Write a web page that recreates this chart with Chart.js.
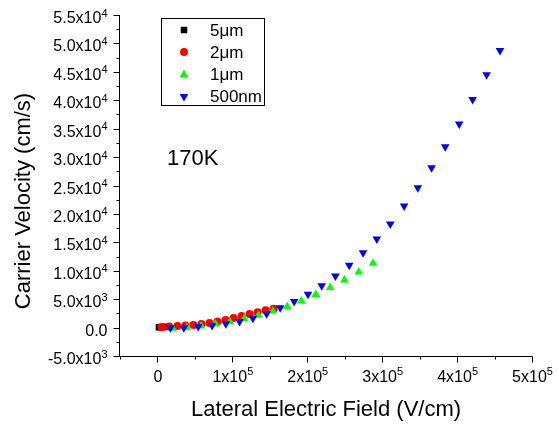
<!DOCTYPE html>
<html lang="en">
<head>
<meta charset="UTF-8">
<title>Carrier Velocity vs Lateral Electric Field</title>
<style>
  html, body { margin: 0; padding: 0; background: #fff; }
  #wrap { width: 559px; height: 426px; }
</style>
</head>
<body>
<div id="wrap"><canvas id="grafico" width="559" height="426"></canvas></div>
<script src="https://cdn.jsdelivr.net/npm/chart.js"></script>
<script>
// ===== data: lateral field (V/cm) vs carrier velocity (cm/s), 170K =====
const seriesNames = ['5μm', '2μm', '1μm', '500nm'];

const field5um = [2000, 5000, 8000, 11000];
const vel5um   = [50, 80, 100, 120];

const field2um = [5300, 16000, 26700, 37400, 48100, 58800, 69500, 80200, 90900, 101600, 112300, 123000, 133700, 144400, 155100];
const vel2um   = [110, 190, 280, 370, 470, 630, 810, 1070, 1340, 1690, 2040, 2390, 2710, 3060, 3300];

const field1um = [20200, 39300, 58400, 77500, 96700, 115800, 134900, 154000, 173100, 192200, 211400, 230500, 249600, 268700, 287800];
const vel1um   = [-100, 0, 260, 610, 1010, 1610, 2190, 2900, 3730, 4660, 5800, 7070, 8360, 9760, 11300];

const field500nm = [17400, 35200, 54400, 72900, 91300, 109600, 127400, 145700, 163800, 182500, 200900, 219300, 237600,
                    256000, 274500, 292800, 310800, 329300, 347600, 365900, 384100, 402800, 420700, 439400, 457200];
const vel500nm   = [-50, -50, 180, 360, 660, 1060, 1660, 2420, 3470, 4580, 5850, 7350, 9060,
                    10960, 13160, 15570, 18210, 21380, 24600, 28120, 31820, 35820, 40150, 44500, 48770];

// ===== ticks =====
const xTicks = [0, 100000, 200000, 300000, 400000, 500000];
const xTickLabels = ['0', '1x10^5', '2x10^5', '3x10^5', '4x10^5', '5x10^5'];
const xMinorTicks = [-50000, 50000, 150000, 250000, 350000, 450000];

const yTicks = [-5000, 0, 5000, 10000, 15000, 20000, 25000, 30000, 35000, 40000, 45000, 50000, 55000];
const yTickLabels = ['-5.0x10^3', '0.0', '5.0x10^3', '1.0x10^4', '1.5x10^4', '2.0x10^4', '2.5x10^4',
                     '3.0x10^4', '3.5x10^4', '4.0x10^4', '4.5x10^4', '5.0x10^4', '5.5x10^4'];
const yMinorTicks = [-2500, 2500, 7500, 12500, 17500, 22500, 27500, 32500, 37500, 42500, 47500, 52500];

const FONT = '"Liberation Sans", Arial, sans-serif';

function pts(xs, ys) {
  return xs.map((x, i) => ({ x: x, y: ys[i] }));
}

// texto con exponente tipo 1x10^5
function supLabel(ctx, txt, x, y, align, size, supSize, rise) {
  const parts = txt.split('^');
  ctx.font = size + 'px ' + FONT;
  const wb = ctx.measureText(parts[0]).width;
  let we = 0;
  if (parts[1]) {
    ctx.font = supSize + 'px ' + FONT;
    we = ctx.measureText(parts[1]).width;
  }
  const left = align === 'right' ? x - wb - we : x - (wb + we) / 2;
  ctx.textAlign = 'left';
  ctx.textBaseline = 'alphabetic';
  ctx.font = size + 'px ' + FONT;
  ctx.fillText(parts[0], left, y);
  if (parts[1]) {
    ctx.font = supSize + 'px ' + FONT;
    ctx.fillText(parts[1], left + wb, y - rise);
  }
}

const datasets = [
  { label: seriesNames[0], data: pts(field5um, vel5um), pointStyle: 'rect', pointRadius: 4.6, backgroundColor: '#000000', order: 4 },
  { label: seriesNames[1], data: pts(field2um, vel2um), pointStyle: 'circle', pointRadius: 4, backgroundColor: '#ff0000', order: 3 },
  { label: seriesNames[2], data: pts(field1um, vel1um), pointStyle: 'triangle', pointRadius: 5, backgroundColor: '#00ff00', order: 2 },
  { label: seriesNames[3], data: pts(field500nm, vel500nm), pointStyle: 'triangle', pointRotation: 180, pointRadius: 5, backgroundColor: '#0000ff', order: 1 }
];
datasets.forEach(d => { d.borderWidth = 0; d.pointBorderWidth = 0; d.showLine = false; });

// ejes, ticks, leyenda y textos
const decoPlugin = {
  id: 'deco',
  afterDraw(chart) {
    const ctx = chart.ctx;
    const a = chart.chartArea;
    const xs = chart.scales.x, ys = chart.scales.y;
    const ax = Math.round(a.left) - 0.5;
    const ay = Math.round(a.bottom) + 0.5;
    ctx.save();
    ctx.strokeStyle = '#000';
    ctx.fillStyle = '#000';
    ctx.lineWidth = 1;

    ctx.beginPath();
    ctx.moveTo(ax, Math.round(a.top));
    ctx.lineTo(ax, ay);
    ctx.lineTo(Math.round(a.right) + 0.5, ay);
    // ticks eje y
    yTicks.forEach(v => {
      const py = Math.round(ys.getPixelForValue(v)) + 0.5;
      ctx.moveTo(ax, py); ctx.lineTo(ax - 6, py);
    });
    yMinorTicks.forEach(v => {
      const py = Math.round(ys.getPixelForValue(v)) + 0.5;
      ctx.moveTo(ax, py); ctx.lineTo(ax - 3, py);
    });
    // ticks eje x
    xTicks.forEach(v => {
      const px = Math.round(xs.getPixelForValue(v)) + 0.5;
      ctx.moveTo(px, ay); ctx.lineTo(px, ay + 6);
    });
    xMinorTicks.forEach(v => {
      const px = Math.round(xs.getPixelForValue(v)) + 0.5;
      ctx.moveTo(px, ay); ctx.lineTo(px, ay + 3);
    });
    ctx.stroke();

    yTicks.forEach((v, i) => {
      supLabel(ctx, yTickLabels[i], ax - 12, ys.getPixelForValue(v) + 8, 'right', 16, 11, 6.5);
    });
    xTicks.forEach((v, i) => {
      supLabel(ctx, xTickLabels[i], xs.getPixelForValue(v) + 0.5, ay + 25, 'center', 16, 11, 6.5);
    });

    // titulos
    ctx.font = '22px ' + FONT;
    ctx.textAlign = 'center';
    ctx.textBaseline = 'alphabetic';
    ctx.fillText('Lateral Electric Field (V/cm)', (a.left + a.right) / 2, 416);
    ctx.save();
    ctx.translate(30, 201);
    ctx.rotate(-Math.PI / 2);
    ctx.fillText('Carrier Velocity (cm/s)', 0, 0);
    ctx.restore();

    ctx.textAlign = 'left';
    ctx.fillText('170K', 167, 165);

    // leyenda
    ctx.strokeRect(161.5, 18.5, 103, 87);
    const rowY = [30, 52, 74.5, 96.5];
    chart.data.datasets.forEach((d, i) => {
      ctx.fillStyle = d.backgroundColor;
      Chart.helpers.drawPoint(ctx, {
        pointStyle: d.pointStyle, rotation: d.pointRotation || 0,
        radius: d.pointRadius, borderWidth: 0
      }, 184, rowY[i]);
      ctx.fillStyle = '#000';
      ctx.font = '17px ' + FONT;
      ctx.textBaseline = 'middle';
      ctx.fillText(d.label, 210, rowY[i] + 1);
    });
    ctx.restore();
  }
};

new Chart(document.getElementById('grafico').getContext('2d'), {
  type: 'scatter',
  data: { datasets: datasets },
  options: {
    responsive: false,
    animation: false,
    events: [],
    layout: { padding: { left: 120, right: 27, top: 15, bottom: 70 } },
    scales: {
      x: { type: 'linear', min: -50000, max: 500000, display: false },
      y: { type: 'linear', min: -5000, max: 55000, display: false }
    },
    plugins: { legend: { display: false }, tooltip: { enabled: false } }
  },
  plugins: [decoPlugin]
});
</script>
</body>
</html>
